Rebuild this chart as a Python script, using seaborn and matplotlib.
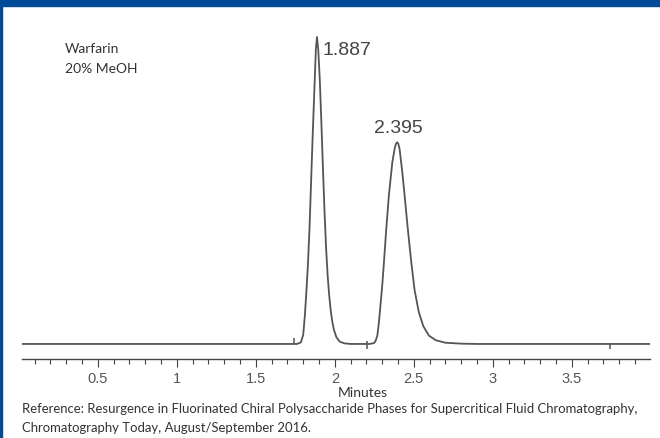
import numpy as np
import pandas as pd
import matplotlib
matplotlib.use("Agg")
import matplotlib.pyplot as plt
import seaborn as sns

# chromatogram trace (minutes, relative signal)
trace_time = [0.02, 1.76, 1.785, 1.80, 1.81, 1.82, 1.83, 1.84, 1.85, 1.86, 1.87,
              1.88, 1.887, 1.895, 1.905, 1.915, 1.925, 1.935, 1.945, 1.955, 1.965,
              1.975, 1.985, 1.995, 2.01, 2.03, 2.06, 2.10, 2.22, 2.248, 2.258, 2.269,
              2.277, 2.285, 2.30, 2.311, 2.325, 2.342, 2.364, 2.38, 2.388, 2.395,
              2.402, 2.41, 2.427, 2.442, 2.46, 2.484, 2.505, 2.532, 2.56, 2.596,
              2.64, 2.70, 2.80, 2.90, 3.995]
trace_signal = [0, 0, 0.5, 3, 9, 17, 26, 38, 53, 68, 82,
                96, 100, 96, 86, 72, 57, 43, 31, 22, 15.5,
                10.5, 7, 4.5, 2.2, 0.8, 0.2, 0, 0, 0.3, 1.0, 2.7,
                6.0, 10.3, 19, 26.6, 37, 48.3, 59.2, 64, 65.3, 65.7,
                65.2, 63.5, 56, 48.3, 38.5, 26.6, 17.5, 10.3, 5.8, 2.7,
                1.2, 0.4, 0.1, 0, 0]

peak_times = [1.887, 2.395]
peak_heights = [100, 65.7]
peak_labels = ["1.887", "2.395"]

# integration event marks on the baseline (time, low, high)
event_time = [1.74, 2.203, 3.74]
event_low = [0, -1.6, -1.6]
event_high = [2.0, 1.0, 0]

major_ticks = [0.5, 1.0, 1.5, 2.0, 2.5, 3.0, 3.5]
major_labels = ["0.5", "1", "1.5", "2", "2.5", "3", "3.5"]
minor_ticks = [round(0.1 * i, 1) for i in range(1, 40)]

sample_lines = ["Warfarin", "20% MeOH"]
reference_lines = [
    "Reference: Resurgence in Fluorinated Chiral Polysaccharide Phases for Supercritical Fluid Chromatography,",
    "Chromatography Today, August/September 2016.",
]

W, H = 660, 439
BLUE = "#004a98"

sns.set_style("white")
plt.rcParams["font.family"] = ["Liberation Sans", "DejaVu Sans"]

fig = plt.figure(figsize=(W / 100, H / 100), dpi=100)
fig.patch.set_facecolor("white")

# frame: top banner and left stripe
fig.patches.append(plt.Rectangle((0, 1 - 7 / H), 1, 7 / H, transform=fig.transFigure,
                                 color=BLUE, zorder=0))
fig.patches.append(plt.Rectangle((0, 0), 2 / W, 1, transform=fig.transFigure,
                                 color=BLUE, zorder=0))

ax = fig.add_axes([22 / W, 1 - 360 / H, (650 - 22) / W, (360 - 30) / H])
ax.set_facecolor("none")

df = pd.DataFrame({"Minutes": trace_time, "Signal": trace_signal})
sns.lineplot(data=df, x="Minutes", y="Signal", ax=ax, color="#555555",
             linewidth=1.3, sort=False, estimator=None)

ax.vlines(event_time, event_low, event_high, color="#555555", linewidth=1.1)

for t, h, lab in zip(peak_times, peak_heights, peak_labels):
    if lab == "1.887":
        ax.annotate(lab, (t, h), xytext=(6, -17), textcoords="offset pixels",
                    ha="left", va="baseline", fontsize=14, color="#444444")
    else:
        ax.annotate(lab, (t, h), xytext=(1, 10), textcoords="offset pixels",
                    ha="center", va="baseline", fontsize=14, color="#444444")

ax.set_xlim(0.02, 3.995)
ax.set_ylim(-4.9, 102.6)
ax.set_xticks(major_ticks)
ax.set_xticklabels(major_labels)
ax.set_xticks(minor_ticks, minor=True)
ax.set_yticks([])
ax.tick_params(axis="x", which="major", direction="out", length=5.8, width=0.8,
               color="#444444", labelsize=10.5, labelcolor="#555555", pad=3)
ax.tick_params(axis="x", which="minor", direction="out", length=3.6, width=0.8,
               color="#444444")
ax.tick_params(axis="x", which="both", bottom=True)
for side in ["top", "right", "left"]:
    ax.spines[side].set_visible(False)
ax.spines["bottom"].set_color("#444444")
ax.spines["bottom"].set_linewidth(1.0)
ax.set_xlabel("")
ax.set_ylabel("")

txt_font = ["Lato", "DejaVu Sans"]
renderer = fig.canvas.get_renderer()


def fit_text(x, y, s, target_w, size=10):
    t = fig.text(x / W, 1 - y / H, s, ha="left", va="baseline", fontsize=size,
                 color="#333333", family=txt_font)
    w = t.get_window_extent(renderer).width
    t.set_fontsize(size * target_w / w)
    return t


fig.text(363 / W, 1 - 397 / H, "Minutes", ha="center", va="baseline",
         fontsize=10, color="#333333", family=txt_font)
for i, line in enumerate(sample_lines):
    fig.text(65 / W, 1 - (53 + 20 * i) / H, line, ha="left", va="baseline",
             fontsize=10, color="#333333", family=txt_font)
ref0 = fit_text(22, 413, reference_lines[0], 618)
fig.text(22 / W, 1 - 432 / H, reference_lines[1], ha="left", va="baseline",
         fontsize=ref0.get_fontsize(), color="#333333", family=txt_font)

fig.savefig("out.png", dpi=100, facecolor="white")
